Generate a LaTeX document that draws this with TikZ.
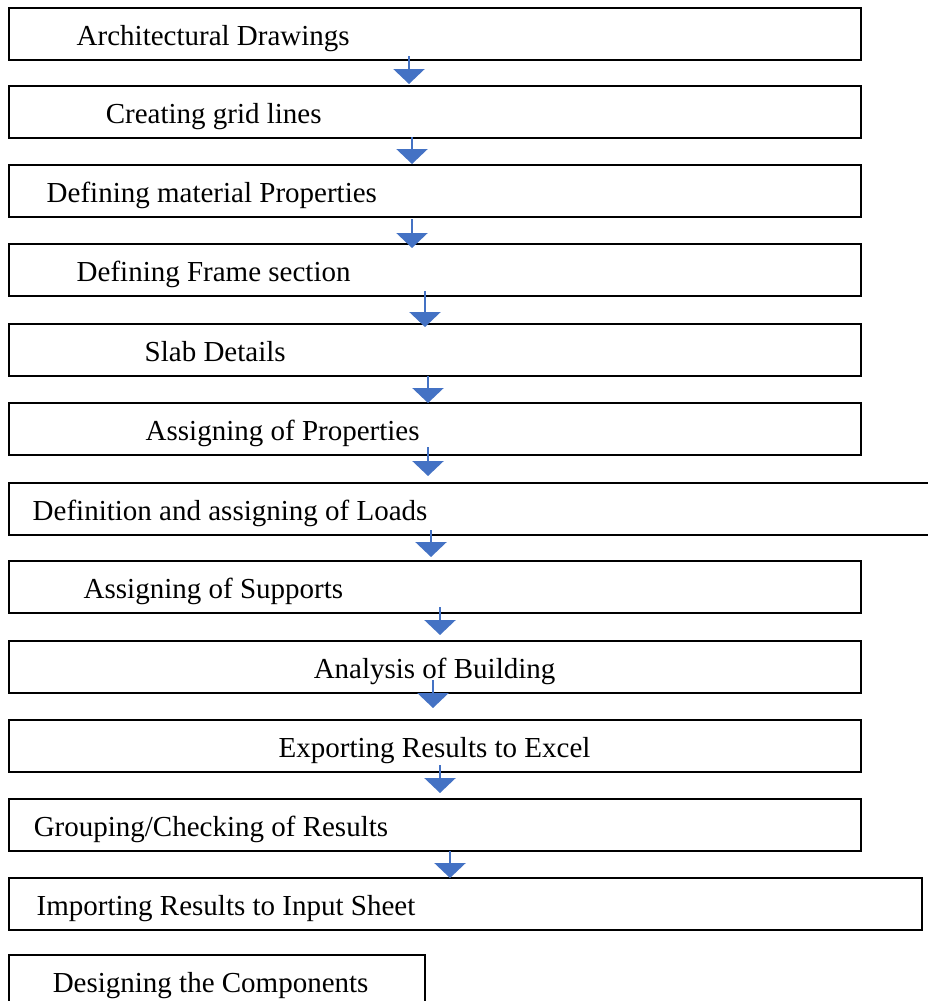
\documentclass[tikz,border=0pt]{standalone}
\usepackage{fontspec}
\setmainfont{Liberation Serif}
\usetikzlibrary{arrows.meta}
\definecolor{flowblue}{RGB}{68,114,196}
\tikzset{
	stage/.style={draw=black,line width=1.5pt,anchor=north west,inner xsep=0pt,inner ysep=0pt,
		minimum height=52pt,text height=29pt,text depth=6pt,
		font=\fontsize{29pt}{34pt}\selectfont},
	flow/.style={draw=flowblue,line width=2.6pt,-{Triangle[width=31pt,length=15pt,fill=flowblue]}}
}
\begin{document}
\begin{tikzpicture}[x=1pt,y=-1pt]
		\useasboundingbox (0,0) rectangle (928,1001);
		% steps
		\foreach \n/\y/\w/\p/\t in {1/7/852/68/Architectural Drawings, 2/85/852/97/Creating grid lines,
			3/164/852/38/Defining material Properties, 4/243/852/68/Defining Frame section,
			5/323/852/136/Slab Details, 6/402/852/137/Assigning of Properties,
			7/482/925/24/Definition and assigning of Loads, 8/560/852/75/Assigning of Supports,
			9/640/852/305/Analysis of Building, 10/719/852/270/Exporting Results to Excel,
			11/798/852/25/{Grouping/Checking of Results}, 12/877/913/28/Importing Results to Input Sheet,
			13/954/416/44/Designing the Components}{
			\node[stage] (s\n) at (8,\y) {\makebox[\w pt][l]{\hspace*{\p pt}\t}};
		}
		% arrows
		\foreach \x/\y/\n/\m/\d in {409/56/1/2/-1, 412/137/2/3/0, 412/219/3/4/5, 425/291/4/5/4,
			428/376/5/6/1, 428/447/6/7/-6, 431/530/7/8/-3, 440/607/8/9/-5,
			433/680/9/10/-11, 440/765/10/11/-5, 450/851/11/12/1}{
			\coordinate (a\n) at (\x,\y);
			\draw[flow,shorten >=-\d pt] (a\n) -- (a\n |- s\m.north);
		}
	\end{tikzpicture}
\end{document}
